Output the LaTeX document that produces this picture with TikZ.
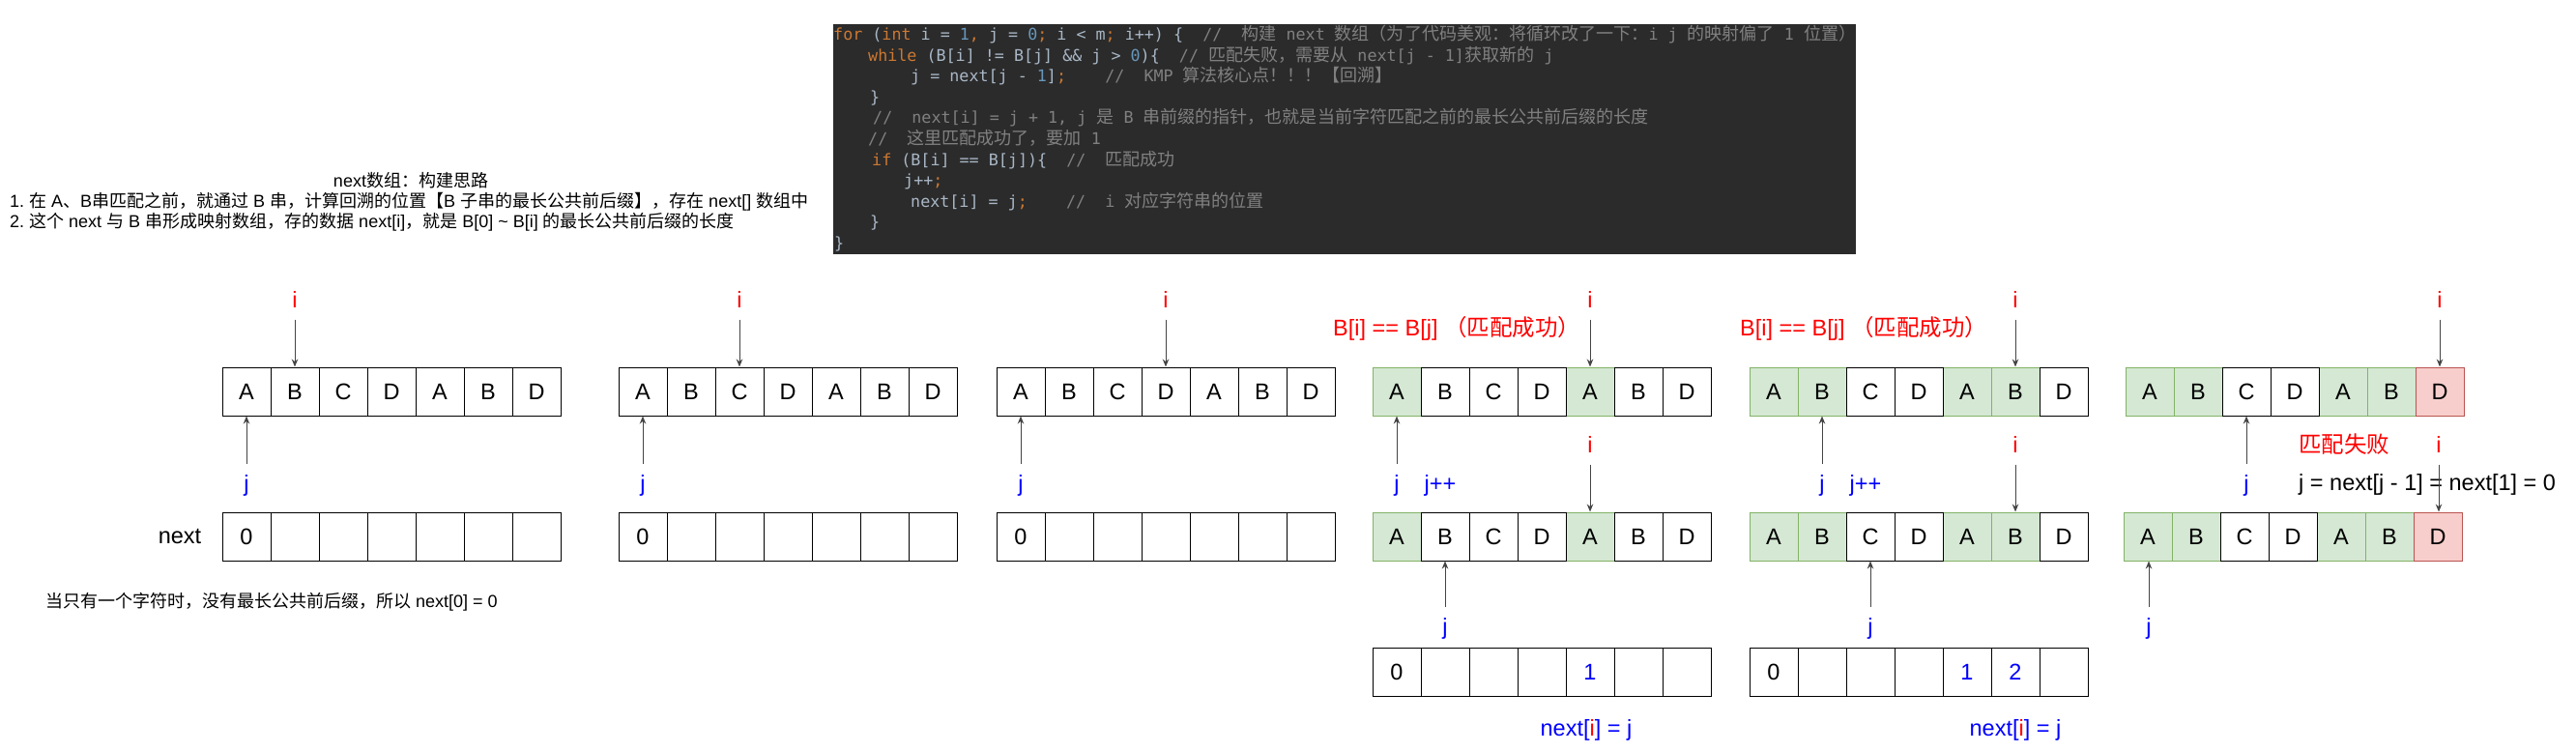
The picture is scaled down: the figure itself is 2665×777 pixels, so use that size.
\documentclass[tikz,border=0pt]{standalone}
\usepackage{fontspec}
\setmainfont{Liberation Sans}
\newfontfamily\zhsans{Noto Sans CJK SC}
\newfontfamily\zhmono[Scale=1.08]{Noto Sans CJK SC}
\newfontfamily\monof{DejaVu Sans Mono}
\usetikzlibrary{arrows.meta}
\frenchspacing
\let\zhfont\zhsans
\newcommand\zh[1]{{\zhfont #1}}
\newcommand\labfont{\fontsize{23.5}{27}\selectfont}
\newcommand\smallf{\fontsize{18}{21}\selectfont}
\newcommand\codefont{\monof\fontsize{16.7}{20}\selectfont\let\zhfont\zhmono\frenchspacing}
\definecolor{cbg}{HTML}{2B2B2B}
\definecolor{ctx}{HTML}{A9B7C6}
\definecolor{ccm}{HTML}{808080}
\definecolor{ckwc}{HTML}{CC7832}
\definecolor{cnumc}{HTML}{6897BB}
\definecolor{gfill}{HTML}{D5E8D4}
\definecolor{gline}{HTML}{82B366}
\definecolor{rfill}{HTML}{F8CECC}
\definecolor{rline}{HTML}{B85450}
\definecolor{ired}{HTML}{FF0000}
\definecolor{jblue}{HTML}{0000FF}
\definecolor{arrowc}{HTML}{444444}
\newcommand\ckw[1]{\textcolor{ckwc}{#1}}
\newcommand\cn[1]{\textcolor{cnumc}{#1}}
\newcommand\cm[1]{\textcolor{ccm}{#1}}
\newcommand\arow[4]{%
  \foreach \k/\t/\s in {#4}{%
    \edef\doit{\noexpand\node[\s] (#1\k) at (#2+25+50*\k,#3+25) {\unexpanded\expandafter{\t}};}%
    \doit}}
\begin{document}
\begin{tikzpicture}[x=1pt,y=-1pt,
  wc/.style={draw=black, fill=white, line width=1pt, minimum width=50pt, minimum height=50pt, inner sep=0pt, font=\labfont},
  gc/.style={wc, draw=gline, fill=gfill},
  rc/.style={wc, draw=rline, fill=rfill},
  ilab/.style={inner sep=0pt, outer sep=12pt, text=ired, font=\labfont},
  jlab/.style={inner sep=0pt, outer sep=11.4pt, text=jblue, font=\labfont},
  plain/.style={inner sep=0pt, font=\labfont},
  txt/.style={inner sep=0pt, font=\smallf},
  cl/.style={anchor=base west, inner sep=0pt, text=ctx, font=\codefont},
  arr/.style={draw=arrowc, line width=1pt, -{Stealth[length=8pt,width=6.5pt]}}]
\useasboundingbox (0,0) rectangle (2665,777);
\fill[white] (0,0) rectangle (2665,777);
% ---------- code block ----------
\node[fill=cbg, inner sep=0pt, minimum width=1058pt, minimum height=238pt, anchor=north west] (codebg) at (862,25) {};
\node[cl] (c1) at (862,41.5) {\ckw{for} (\ckw{int} i = \cn{1}\ckw{,} j = \cn{0}\ckw{;} i < m\ckw{;} i++) \{\ \ \cm{//\ \ \zh{构建} next \zh{数组（为了代码美观：将循环改了一下：}i j \zh{的映射偏了} 1 \zh{位置）}}};
\node[cl] (c2) at (898,63.1) {\ckw{while} (B[i] != B[j] \&\& j > \cn{0})\{\ \ \cm{// \zh{匹配失败，需要从} next[j - 1]\zh{获取新的} j}};
\node[cl] (c3) at (942,84.7) {j = next[j - \cn{1}]\ckw{;}\ \ \ \ \cm{//\ \ KMP \zh{算法核心点！！！【回溯】}}};
\node[cl] (c4) at (900,106.3) {\}};
\node[cl] (c5) at (903,127.9) {\cm{//\ \ next[i] = j + 1, j \zh{是} B \zh{串前缀的指针，也就是当前字符匹配之前的最长公共前后缀的长度}}};
\node[cl] (c6) at (898,149.5) {\cm{//\ \ \zh{这里匹配成功了，要加} 1}};
\node[cl] (c7) at (902,171.1) {\ckw{if} (B[i] == B[j])\{\ \ \cm{//\ \ \zh{匹配成功}}};
\node[cl] (c8) at (935,192.7) {j++\ckw{;}};
\node[cl] (c9) at (942,214.3) {next[i] = j\ckw{;}\ \ \ \ \cm{//\ \ i \zh{对应字符串的位置}}};
\node[cl] (c10) at (900,235.9) {\}};
\node[cl] (c11) at (863,257.5) {\}};
% ---------- left text ----------
\node[txt, anchor=base] (title) at (425,193.5) {next\zh{数组：构建思路}};
\node[txt, anchor=base west] (l1) at (10,214.5) {1. \zh{在} A\zh{、}B\zh{串匹配之前，就通过} B \zh{串，计算回溯的位置【}B \zh{子串的最长公共前后缀】，存在} next[] \zh{数组中}};
\node[txt, anchor=base west] (l2) at (10,235.5) {2. \zh{这个} next \zh{与} B \zh{串形成映射数组，存的数据} next[i]\zh{，就是} B[0] \textasciitilde{} B[i] \zh{的最长公共前后缀的长度}};
\node[txt, anchor=base west] (note) at (47,628.5) {\zh{当只有一个字符时，没有最长公共前后缀，所以} next[0] = 0};
% ---------- group 1 ----------
\arow{g1t}{230}{380}{0/A/wc,1/B/wc,2/C/wc,3/D/wc,4/A/wc,5/B/wc,6/D/wc}
\arow{g1n}{230}{530}{0/0/wc,1//wc,2//wc,3//wc,4//wc,5//wc,6//wc}
\node[plain] (nextlbl) at (186,555) {next};
\node[ilab] (g1i) at (305,310) {i};
\node[jlab] (g1j) at (255,502) {j};
\draw[arr] (g1i.south) -- (g1t1.north);
\draw[arr] (g1j.north) -- (g1t0.south);
% ---------- group 2 ----------
\arow{g2t}{640}{380}{0/A/wc,1/B/wc,2/C/wc,3/D/wc,4/A/wc,5/B/wc,6/D/wc}
\arow{g2n}{640}{530}{0/0/wc,1//wc,2//wc,3//wc,4//wc,5//wc,6//wc}
\node[ilab] (g2i) at (765,310) {i};
\node[jlab] (g2j) at (665,502) {j};
\draw[arr] (g2i.south) -- (g2t2.north);
\draw[arr] (g2j.north) -- (g2t0.south);
% ---------- group 3 ----------
\arow{g3t}{1031}{380}{0/A/wc,1/B/wc,2/C/wc,3/D/wc,4/A/wc,5/B/wc,6/D/wc}
\arow{g3n}{1031}{530}{0/0/wc,1//wc,2//wc,3//wc,4//wc,5//wc,6//wc}
\node[ilab] (g3i) at (1206,310) {i};
\node[jlab] (g3j) at (1056,502) {j};
\draw[arr] (g3i.south) -- (g3t3.north);
\draw[arr] (g3j.north) -- (g3t0.south);
% ---------- group 4 ----------
\node[plain, anchor=west, text=ired] (g4ok) at (1379,340) {B[i] == B[j] \zh{（匹配成功）}};
\arow{g4t}{1420}{380}{0/A/gc,4/A/gc,1/B/wc,2/C/wc,3/D/wc,5/B/wc,6/D/wc}
\arow{g4m}{1420}{530}{0/A/gc,4/A/gc,1/B/wc,2/C/wc,3/D/wc,5/B/wc,6/D/wc}
\arow{g4n}{1420}{670}{0/0/wc,1//wc,2//wc,3//wc,4/\textcolor{jblue}{1}/wc,5//wc,6//wc}
\node[ilab] (g4i) at (1645,310) {i};
\node[ilab] (g4mi) at (1645,460) {i};
\node[jlab] (g4j) at (1445,502) {j};
\node[plain, text=jblue] (g4jpp) at (1490,502) {j++};
\node[jlab] (g4mj) at (1495,650) {j};
\node[plain] (g4eq) at (1641,755) {\textcolor{jblue}{next[}\textcolor{ired}{i}\textcolor{jblue}{] = j}};
\draw[arr] (g4i.south) -- (g4t4.north);
\draw[arr] (g4mi.south) -- (g4m4.north);
\draw[arr] (g4j.north) -- (g4t0.south);
\draw[arr] (g4mj.north) -- (g4m1.south);
% ---------- group 5 ----------
\node[plain, anchor=west, text=ired] (g5ok) at (1800,340) {B[i] == B[j] \zh{（匹配成功）}};
\arow{g5t}{1810}{380}{0/A/gc,1/B/gc,4/A/gc,5/B/gc,2/C/wc,3/D/wc,6/D/wc}
\arow{g5m}{1810}{530}{0/A/gc,1/B/gc,4/A/gc,5/B/gc,2/C/wc,3/D/wc,6/D/wc}
\arow{g5n}{1810}{670}{0/0/wc,1//wc,2//wc,3//wc,4/\textcolor{jblue}{1}/wc,5/\textcolor{jblue}{2}/wc,6//wc}
\node[ilab] (g5i) at (2085,310) {i};
\node[ilab] (g5mi) at (2085,460) {i};
\node[jlab] (g5j) at (1885,502) {j};
\node[plain, text=jblue] (g5jpp) at (1930,502) {j++};
\node[jlab] (g5mj) at (1935,650) {j};
\node[plain] (g5eq) at (2085,755) {\textcolor{jblue}{next[}\textcolor{ired}{i}\textcolor{jblue}{] = j}};
\draw[arr] (g5i.south) -- (g5t5.north);
\draw[arr] (g5mi.south) -- (g5m5.north);
\draw[arr] (g5j.north) -- (g5t1.south);
\draw[arr] (g5mj.north) -- (g5m2.south);
% ---------- group 6 ----------
\arow{g6t}{2199}{380}{0/A/gc,1/B/gc,4/A/gc,5/B/gc,6/D/rc,2/C/wc,3/D/wc}
\arow{g6b}{2197}{530}{0/A/gc,1/B/gc,4/A/gc,5/B/gc,6/D/rc,2/C/wc,3/D/wc}
\node[plain, text=ired] (g6fail) at (2425,460) {\zh{匹配失败}};
\node[plain, anchor=west] (g6eq) at (2378,501) {j = next[j - 1] = next[1] = 0};
\node[ilab] (g6i) at (2524,310) {i};
\node[ilab] (g6mi) at (2523,460) {i};
\node[jlab] (g6j) at (2324,502) {j};
\node[jlab] (g6bj) at (2223,650) {j};
\draw[arr] (g6i.south) -- (g6t6.north);
\draw[arr] (g6mi.south) -- (g6mi.south |- g6b6.north);
\draw[arr] (g6j.north) -- (g6t2.south);
\draw[arr] (g6bj.north) -- (g6bj.north |- g6b0.south);
\end{tikzpicture}
\end{document}
